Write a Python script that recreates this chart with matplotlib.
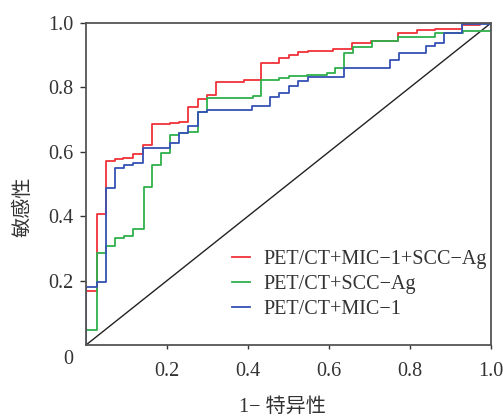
import matplotlib
matplotlib.use('Agg')
import matplotlib.pyplot as plt

plt.rcParams['font.family'] = ['Liberation Serif', 'Noto Sans CJK SC', 'DejaVu Sans']

# ROC 曲线数据 (1-特异性, 敏感性), 阶梯点
red_x = [0, 0, 0.026, 0.049, 0.072, 0.092, 0.117, 0.140, 0.162, 0.207, 0.230, 0.253, 0.277,
         0.298, 0.320, 0.390, 0.431, 0.477, 0.500, 0.524, 0.549, 0.611, 0.658, 0.703, 0.771,
         0.817, 0.862, 0.928, 0.973, 1.0]
red_y = [0, 0.169, 0.407, 0.571, 0.577, 0.582, 0.592, 0.621, 0.685, 0.690, 0.694, 0.738, 0.763,
         0.776, 0.818, 0.823, 0.877, 0.890, 0.901, 0.909, 0.913, 0.918, 0.937, 0.945, 0.970,
         0.978, 0.982, 0.994, 1.0, 1.0]

green_x = [0, 0, 0.026, 0.049, 0.072, 0.094, 0.117, 0.142, 0.164, 0.186, 0.207, 0.230, 0.253,
           0.277, 0.298, 0.413, 0.431, 0.477, 0.500, 0.546, 0.594, 0.615, 0.637, 0.660, 0.705,
           0.771, 0.862, 0.930, 1.0]
green_y = [0, 0.047, 0.287, 0.307, 0.331, 0.339, 0.359, 0.492, 0.560, 0.597, 0.652, 0.658, 0.662,
           0.725, 0.766, 0.773, 0.823, 0.829, 0.835, 0.840, 0.845, 0.859, 0.906, 0.925, 0.945,
           0.955, 0.968, 0.975, 1.0]

blue_x = [0, 0, 0.026, 0.049, 0.072, 0.094, 0.117, 0.140, 0.207, 0.230, 0.253, 0.277, 0.298,
          0.411, 0.455, 0.477, 0.500, 0.524, 0.549, 0.637, 0.751, 0.773, 0.840, 0.862, 0.885,
          0.928, 1.0]
blue_y = [0, 0.181, 0.197, 0.487, 0.549, 0.559, 0.566, 0.611, 0.626, 0.657, 0.680, 0.725, 0.730,
          0.742, 0.771, 0.782, 0.804, 0.821, 0.832, 0.860, 0.886, 0.908, 0.929, 0.938, 0.968,
          0.997, 1.0]

labels = ['PET/CT+MIC−1+SCC−Ag', 'PET/CT+SCC−Ag', 'PET/CT+MIC−1']
colors = ['#f03038', '#2fb04a', '#3552b5']
ticks = [0.2, 0.4, 0.6, 0.8, 1.0]
tick_labels = ['0.2', '0.4', '0.6', '0.8', '1.0']

fig = plt.figure(figsize=(5.03, 4.16), dpi=100)
ax = fig.add_axes([86 / 503, 71 / 416, 405 / 503, 322 / 416])

# 参考线
ax.plot([0, 1], [0, 1], color='#222222', linewidth=1.0)

for xs, ys, c, lab in zip([red_x, green_x, blue_x], [red_y, green_y, blue_y], colors, labels):
    ax.plot(xs, ys, drawstyle='steps-post', color=c, linewidth=1.3, label=lab)

ax.set_xlim(0, 1)
ax.set_ylim(0, 1)
ax.set_xticks(ticks)
ax.set_xticklabels(tick_labels)
ax.set_yticks(ticks)
ax.set_yticklabels(tick_labels)
ax.tick_params(axis='x', direction='out', length=3, width=1, pad=9, labelsize=14.5, colors='#333333')
ax.tick_params(axis='y', direction='out', length=4, width=1, pad=5, labelsize=14.5, colors='#333333')
for s in ax.spines.values():
    s.set_color('#555555')
    s.set_linewidth(1.3)

ax.text(-0.045, -0.045, '0', transform=ax.transAxes, ha='center', va='center',
        fontsize=14.5, color='#333333')

ax.set_xlabel('1− 特异性', fontsize=14.5, color='#333333')
ax.xaxis.set_label_coords(0.486, -0.165)
ax.set_ylabel('敏感性', fontsize=14.5, color='#333333')
ax.yaxis.set_label_coords(-0.13, 0.429)

leg = ax.legend(loc='upper left', bbox_to_anchor=(0.36, 0.296), frameon=False,
                fontsize=14.5, handlelength=0.9, handletextpad=0.65,
                labelspacing=0.3, borderpad=0, borderaxespad=0)
for t in leg.get_texts():
    t.set_color('#333333')

fig.savefig('out.png', dpi=100)
